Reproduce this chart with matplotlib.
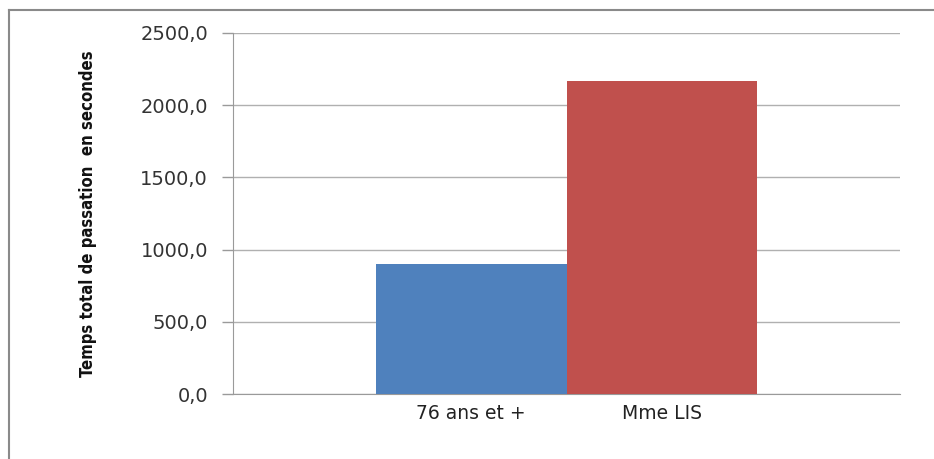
import matplotlib
matplotlib.use("Agg")
from matplotlib import pyplot as plt
from matplotlib.lines import Line2D

categories = ["76 ans et +", "Mme LIS"]
values = [900.0, 2170.0]
colors = ["#4F81BD", "#C0504D"]
y_ticks = [0, 500, 1000, 1500, 2000, 2500]
y_label = "Temps total de passation  en secondes"

fig = plt.figure(figsize=(9.34, 4.59), dpi=100)
ax = fig.add_axes([233 / 934, 1 - 394 / 459, 667 / 934, 361 / 459])

positions = list(range(len(categories)))
ax.bar(positions, values, width=1.0, color=colors, zorder=3)

ax.set_xlim(-1.25, 2.25)
ax.set_ylim(0, 2500)
ax.set_yticks(y_ticks)
ax.set_yticklabels([f"{v:.1f}".replace(".", ",") for v in y_ticks],
                   fontsize=14, color="#333333")
ax.set_xticks(positions)
ax.set_xticklabels(categories, fontsize=13.5, color="#222222")
ax.tick_params(axis="x", length=0, pad=7)
ax.tick_params(axis="y", length=8, width=1, color="#9a9a9a", pad=10)

ax.grid(axis="y", color="#b0b0b0", linewidth=1, zorder=0)
for side in ["top", "right"]:
    ax.spines[side].set_visible(False)
ax.spines["left"].set_color("#9a9a9a")
ax.spines["bottom"].set_color("#9a9a9a")

ax.set_ylabel(y_label, fontsize=12, fontweight="bold", fontstretch="condensed",
              color="#111111", labelpad=31)

# frame around the chart (cut off at right and bottom)
fig.add_artist(Line2D([9 / 934, 9 / 934], [0, 1 - 10 / 459],
                      transform=fig.transFigure, color="#8a8a8a", lw=1.5))
fig.add_artist(Line2D([9 / 934, 1], [1 - 10 / 459, 1 - 10 / 459],
                      transform=fig.transFigure, color="#8a8a8a", lw=1.5))

fig.savefig("out.png", dpi=100)
